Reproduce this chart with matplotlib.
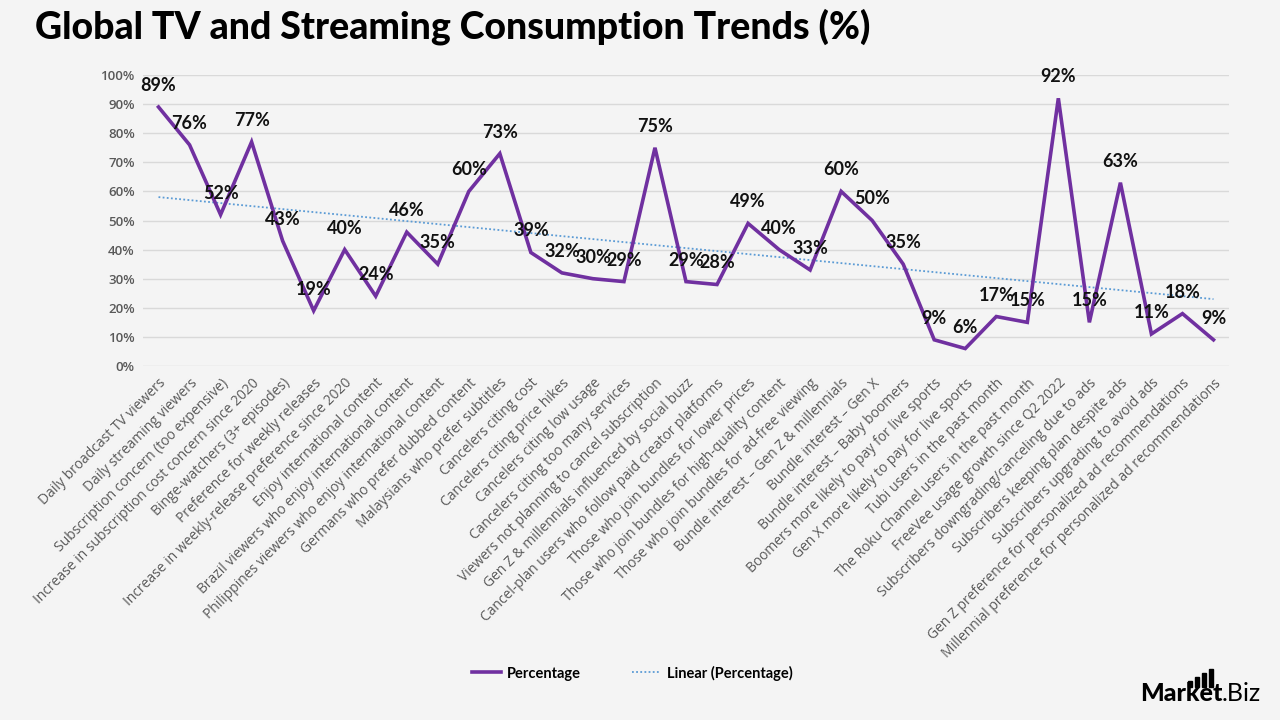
import matplotlib
matplotlib.use("Agg")
import matplotlib.pyplot as plt
import numpy as np
from matplotlib.lines import Line2D
from matplotlib.patches import Rectangle

categories = [
    "Daily broadcast TV viewers",
    "Daily streaming viewers",
    "Subscription concern (too expensive)",
    "Increase in subscription cost concern since 2020",
    "Binge-watchers (3+ episodes)",
    "Preference for weekly releases",
    "Increase in weekly-release preference since 2020",
    "Enjoy international content",
    "Brazil viewers who enjoy international content",
    "Philippines viewers who enjoy international content",
    "Germans who prefer dubbed content",
    "Malaysians who prefer subtitles",
    "Cancelers citing cost",
    "Cancelers citing price hikes",
    "Cancelers citing low usage",
    "Cancelers citing too many services",
    "Viewers not planning to cancel subscription",
    "Gen Z & millennials influenced by social buzz",
    "Cancel-plan users who follow paid creator platforms",
    "Those who join bundles for lower prices",
    "Those who join bundles for high-quality content",
    "Those who join bundles for ad-free viewing",
    "Bundle interest \u2013 Gen Z & millennials",
    "Bundle interest \u2013 Gen X",
    "Bundle interest \u2013 Baby boomers",
    "Boomers more likely to pay for live sports",
    "Gen X more likely to pay for live sports",
    "Tubi users in the past month",
    "The Roku Channel users in the past month",
    "FreeVee usage growth since Q2 2022",
    "Subscribers downgrading/canceling due to ads",
    "Subscribers keeping plan despite ads",
    "Subscribers upgrading to avoid ads",
    "Gen Z preference for personalized ad recommendations",
    "Millennial preference for personalized ad recommendations",
]
percentage = [89, 76, 52, 77, 43, 19, 40, 24, 46, 35, 60, 73, 39, 32, 30, 29, 75,
              29, 28, 49, 40, 33, 60, 50, 35, 9, 6, 17, 15, 92, 15, 63, 11, 18, 9]
y_ticks = [0, 10, 20, 30, 40, 50, 60, 70, 80, 90, 100]

BG = "#f4f4f4"
PURPLE = "#7030a0"
TREND = "#5b9bd5"

fig = plt.figure(figsize=(12.8, 7.2), dpi=100)
fig.patch.set_facecolor(BG)
ax = fig.add_axes([143 / 1280, (720 - 366) / 720, (1229 - 143) / 1280, (366 - 75) / 720])
ax.set_facecolor(BG)

x = np.arange(len(categories))
vals = np.array(percentage, dtype=float)

ax.plot(x, vals, color=PURPLE, lw=2.6, solid_joinstyle="miter", zorder=3)
coef = np.polyfit(x, vals, 1)
ax.plot(x, np.polyval(coef, x), color=TREND, lw=1.3, ls=(0, (1, 1.3)), zorder=2)

for xi, v in zip(x, percentage):
    ax.annotate(f"{v}%", (xi, v), xytext=(0, 15.5), textcoords="offset points",
                ha="center", va="center", fontsize=13, fontweight="bold",
                family="Lato", color="#111111", zorder=4)

ax.set_xlim(-0.5, len(categories) - 0.5)
ax.set_ylim(0, 100)
ax.set_yticks(y_ticks)
ax.set_yticklabels([f"{t}%" for t in y_ticks], fontsize=9.5, color="#595959",
                   family="Open Sans", fontweight="semibold")
ax.set_xticks(x)
ax.set_xticklabels(categories, rotation=45, ha="right", rotation_mode="anchor",
                   fontsize=10, color="#595959", family="Open Sans")
ax.tick_params(axis="both", length=0)
ax.tick_params(axis="y", pad=6)
ax.tick_params(axis="x", pad=7)
ax.grid(axis="y", color="#d9d9d9", lw=1)
ax.set_axisbelow(True)
for s in ax.spines.values():
    s.set_visible(False)

fig.text(35 / 1280, 1 - 27 / 720, "Global TV and Streaming Consumption Trends (%)",
         fontsize=27, fontweight="black", family="Lato", color="black",
         ha="left", va="center")

handles = [Line2D([], [], color=PURPLE, lw=2.6),
           Line2D([], [], color=TREND, lw=1.3, ls=(0, (1, 1.3)))]
leg = fig.legend(handles, ["Percentage", "Linear (Percentage)"], loc="center",
                 bbox_to_anchor=(632 / 1280, 1 - 673 / 720), ncol=2, frameon=False,
                 prop={"family": "Lato", "weight": "bold", "size": 10.5},
                 handlelength=2.0, handletextpad=0.4, columnspacing=3.5)

fig.text(1222 / 1280, 1 - 701 / 720, ".Biz", fontsize=18, family="Lato",
         color="black", ha="left", va="baseline")
fig.text(1222 / 1280, 1 - 701 / 720, "Market", fontsize=18, fontweight="black",
         family="Lato", color="black", ha="right", va="baseline")
for bx, top in zip([1188, 1195, 1202, 1209], [681, 677, 673, 669]):
    fig.add_artist(Rectangle((bx / 1280, 1 - 687 / 720), 3.6 / 1280, (687 - top) / 720,
                             transform=fig.transFigure, color="black"))

fig.savefig("out.png", dpi=100, facecolor=BG)
